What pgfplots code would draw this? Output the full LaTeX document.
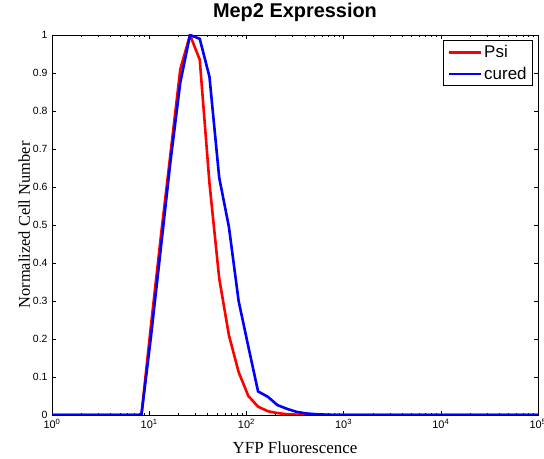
\documentclass[border=0pt]{standalone}
\usepackage{fontspec}
\setmainfont{Liberation Sans}
\newfontfamily\tnr{Liberation Serif}
\usepackage{pgfplots}
\pgfplotsset{compat=1.18}
\begin{document}
\begin{tikzpicture}
\begin{axis}[
  scale only axis,
  width=486bp, height=380bp,
  xmode=log,
  xmin=1, xmax=100000,
  ymin=0, ymax=1,
  xtick={1,10,100,1000,10000,100000},
  xticklabels={10\textsuperscript{0},10\textsuperscript{1},10\textsuperscript{2},10\textsuperscript{3},10\textsuperscript{4},10\textsuperscript{5}},
  ytick={0,0.1,0.2,0.3,0.4,0.5,0.6,0.7,0.8,0.9,1},
  yticklabels={0,0.1,0.2,0.3,0.4,0.5,0.6,0.7,0.8,0.9,1},
  tick align=inside,
  major tick length=4bp,
  minor tick length=2.5bp,
  tick style={black, line width=0.6bp},
  axis line style={black, line width=0.8bp},
  ticklabel style={font=\fontsize{10.5}{12}\selectfont},
  xticklabel style={yshift=-1bp, font=\fontsize{11}{12}\selectfont},
  yticklabel style={xshift=-1bp},
  title={\bfseries Mep2 Expression},
  title style={font=\fontsize{20}{24}\selectfont, at={(axis description cs:0.5,1.029)}, anchor=base},
  xlabel={\tnr YFP Fluorescence},
  xlabel style={font=\fontsize{17}{20}\selectfont, at={(axis description cs:0.5,-0.1026)}, anchor=base},
  ylabel={\tnr Normalized Cell Number},
  ylabel style={font=\fontsize{16.5}{20}\selectfont, at={(axis description cs:-0.0453,0.5)}, anchor=base, rotate=0},
  legend style={at={(axis description cs:0.9897,0.987)}, anchor=north east, draw=black, line width=0.8bp,
    font=\fontsize{17}{20}\selectfont, inner xsep=4bp, inner ysep=3bp, row sep=4bp},
  legend cell align=left,
  legend image code/.code={\draw[#1] (0bp,0bp) -- (32bp,0bp);},
]
\addplot[red, line width=2.6bp] coordinates {
(1,0) (8.318,0) (10.47,0.24) (13.18,0.47) (16.60,0.69) (20.89,0.91) (26.30,1.0)
(33.11,0.935) (41.69,0.61) (52.48,0.36) (66.07,0.21) (83.18,0.113) (104.7,0.05)
(131.8,0.022) (166.0,0.01) (208.9,0.005) (263.0,0.002) (331.1,0.001) (416.9,0) (100000,0)
};
\addlegendentry{Psi}
\addplot[blue, line width=2.6bp] coordinates {
(1,0) (8.318,0) (10.47,0.21) (13.18,0.44) (16.60,0.67) (20.89,0.875) (26.30,1.0)
(33.11,0.99) (41.69,0.89) (52.48,0.625) (66.07,0.495) (83.18,0.3) (104.7,0.18)
(131.8,0.062) (166.0,0.048) (208.9,0.026) (263.0,0.016) (331.1,0.008) (416.9,0.004)
(524.8,0.002) (660.7,0.001) (831.8,0) (100000,0)
};
\addlegendentry{cured}
\end{axis}
\pgfresetboundingbox
\path (current axis.south west) ++(-52bp,-44bp) coordinate (bl);
\path (current axis.north east) ++(6bp,35bp) coordinate (tr);
\path (bl) rectangle (tr);
\end{tikzpicture}
\end{document}
